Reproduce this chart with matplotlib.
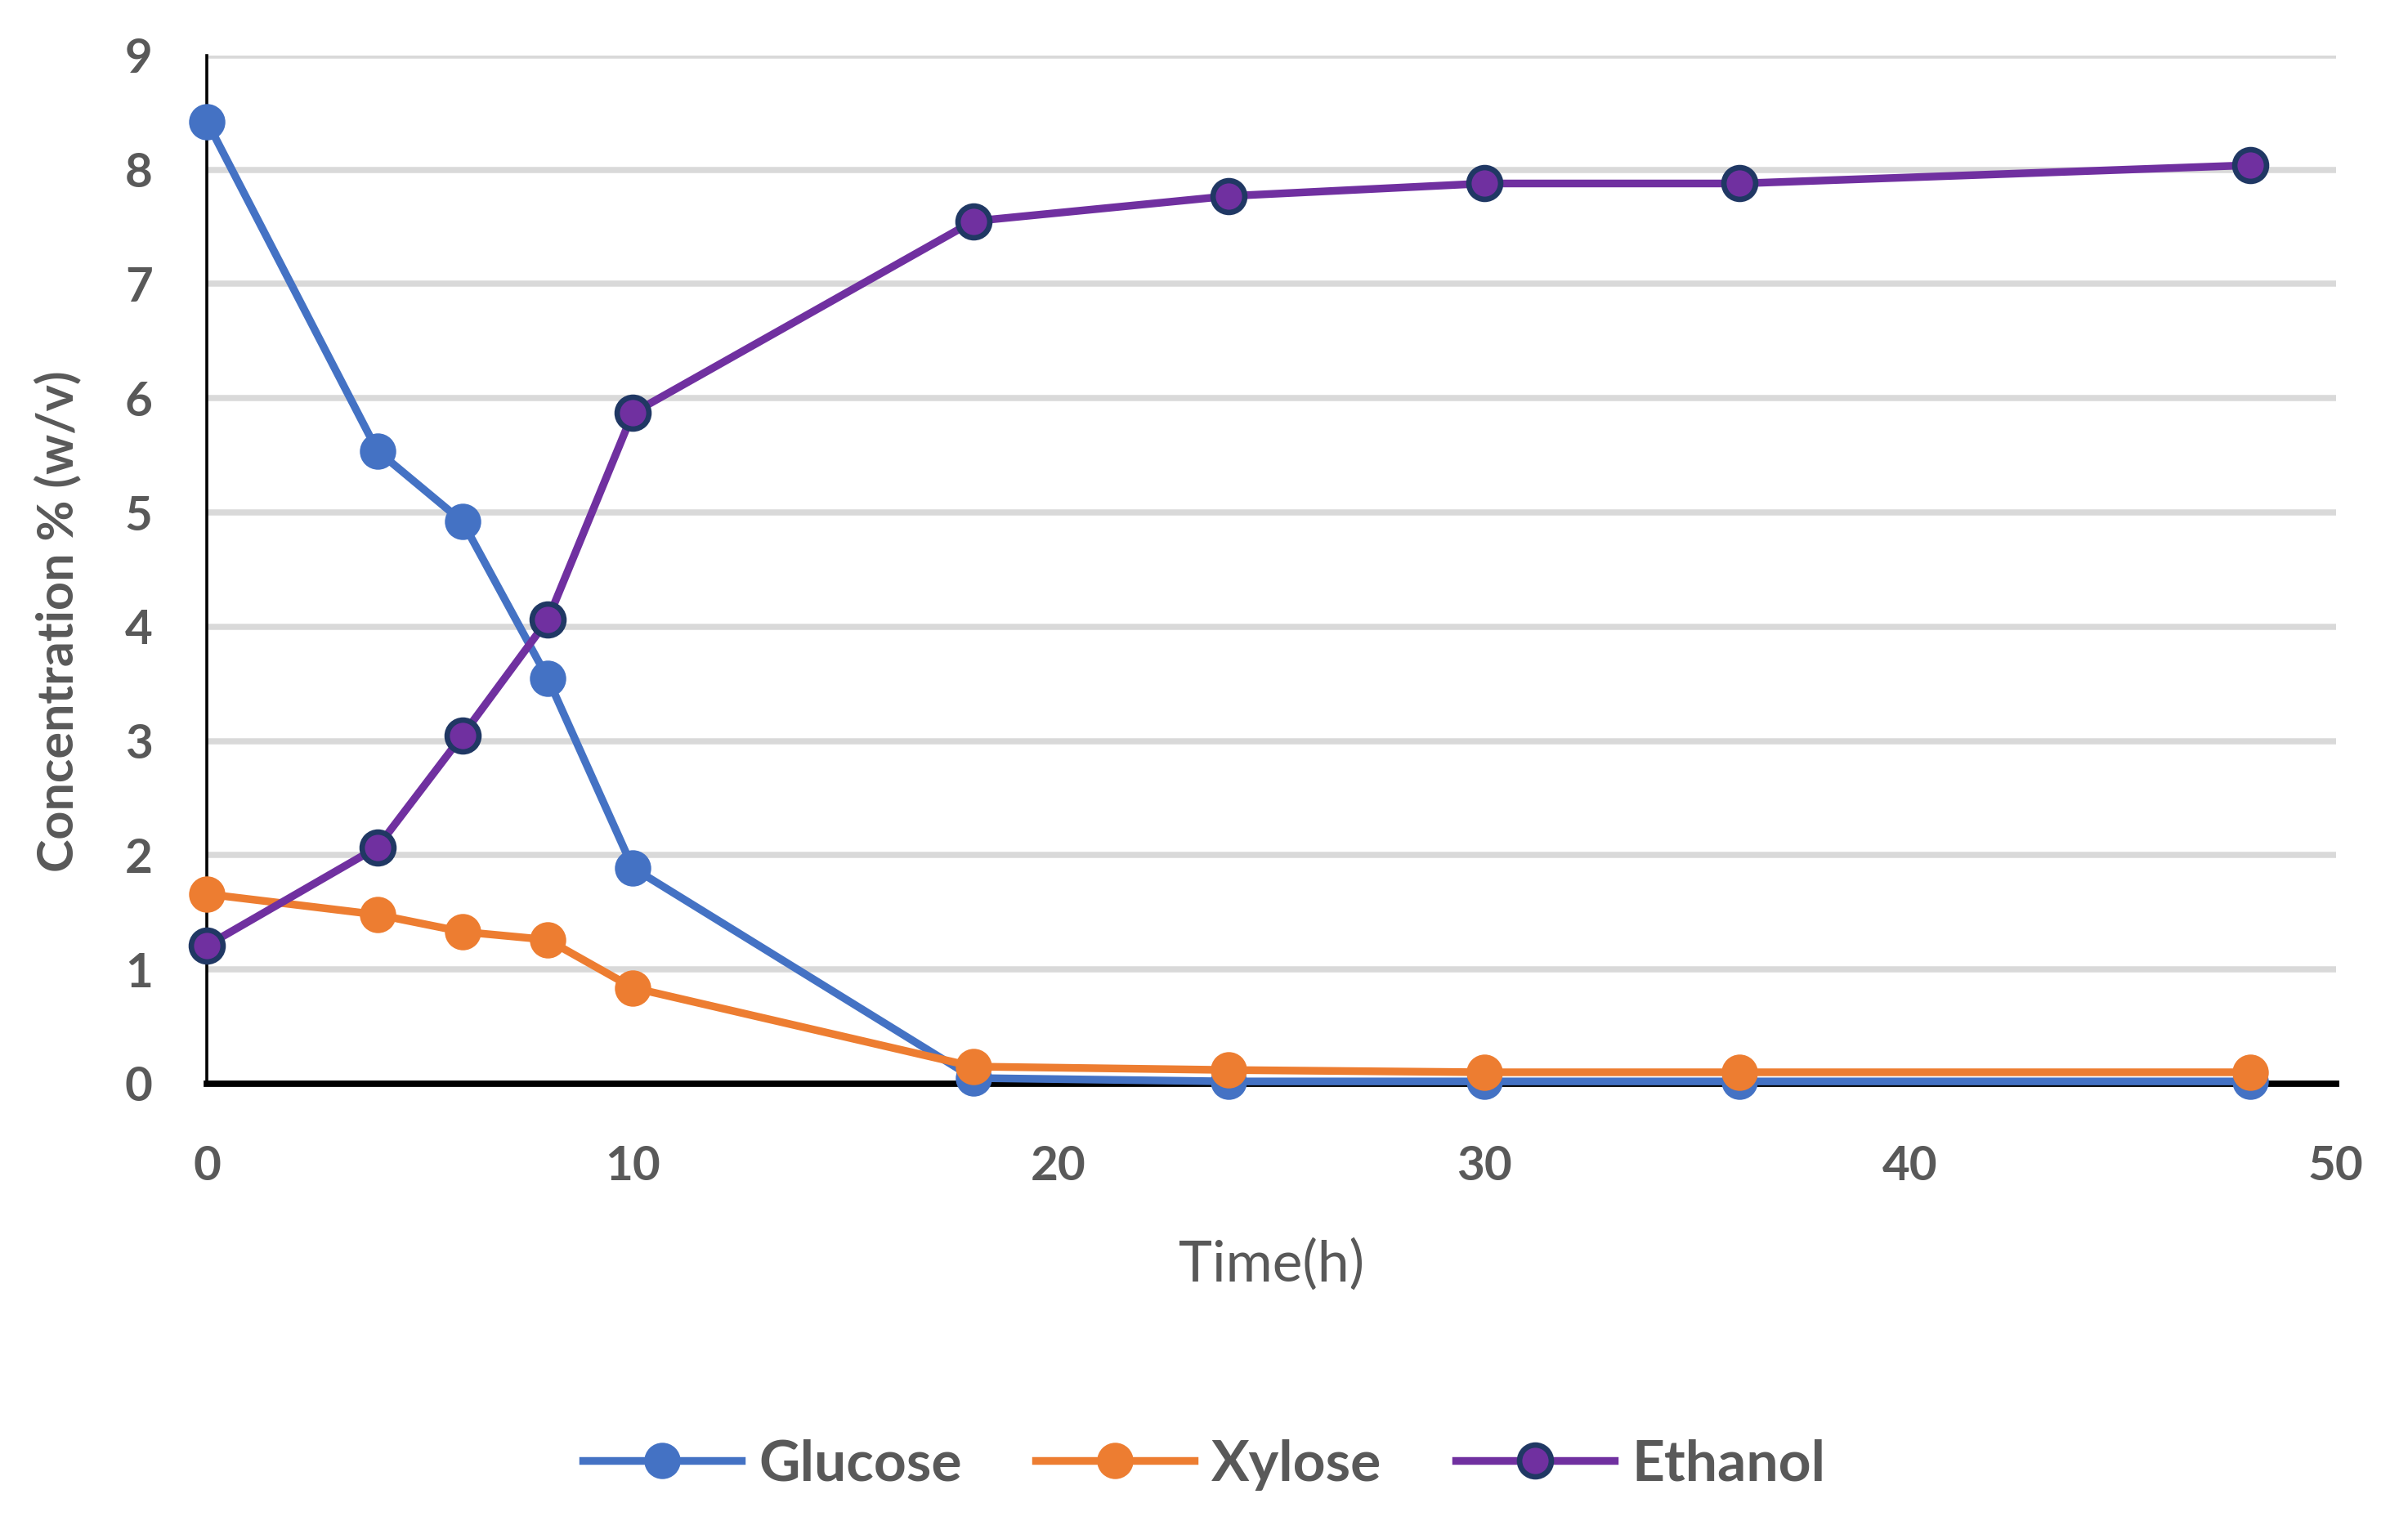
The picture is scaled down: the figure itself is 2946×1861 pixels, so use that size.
import matplotlib.pyplot as plt

time_h = [0, 4, 6, 8, 10, 18, 24, 30, 36, 48]
glucose = [8.42, 5.54, 4.92, 3.55, 1.89, 0.05, 0.02, 0.02, 0.02, 0.02]
xylose = [1.66, 1.48, 1.33, 1.26, 0.84, 0.15, 0.12, 0.10, 0.10, 0.10]
ethanol = [1.21, 2.07, 3.05, 4.06, 5.87, 7.55, 7.77, 7.88, 7.88, 8.04]

x_ticks = [0, 10, 20, 30, 40, 50]
y_ticks = list(range(0, 10))

plt.rcParams['font.family'] = ['Lato', 'DejaVu Sans']

fig = plt.figure(figsize=(14.73, 9.305), dpi=200)
ax = fig.add_axes([0.086, 0.2875, 0.884, 0.676])

ax.plot(time_h, glucose, color='#4472C4', lw=3.4, marker='o', ms=15,
        mfc='#4472C4', mec='#4472C4', label='Glucose', zorder=3,
        clip_on=False)
ax.plot(time_h, xylose, color='#ED7D31', lw=3.4, marker='o', ms=15,
        mfc='#ED7D31', mec='#ED7D31', label='Xylose', zorder=4,
        clip_on=False)
ax.plot(time_h, ethanol, color='#7030A0', lw=3.4, marker='o', ms=14,
        mfc='#7030A0', mec='#203864', mew=2.4, label='Ethanol', zorder=5,
        clip_on=False)

ax.set_xlim(0, 50)
ax.set_ylim(0, 9)
ax.set_xticks(x_ticks)
ax.set_yticks(y_ticks)

ax.yaxis.grid(True, color='#D9D9D9', lw=2.7)
ax.set_axisbelow(True)
ax.tick_params(length=0, labelsize=21, labelcolor='#595959')
ax.tick_params(axis='y', pad=24)
ax.tick_params(axis='x', pad=27)
for lab in ax.get_xticklabels() + ax.get_yticklabels():
    lab.set_fontweight('bold')

for s in ['top', 'right']:
    ax.spines[s].set_visible(False)
ax.spines['left'].set_linewidth(1.3)
ax.spines['bottom'].set_linewidth(2.8)
ax.spines['left'].set_color('black')
ax.spines['bottom'].set_color('black')
ax.spines['left'].set_zorder(2)
ax.spines['bottom'].set_zorder(2)

ax.set_xlabel('Time(h)', fontsize=25, color='#595959', labelpad=22)
ax.set_ylabel('Concentration % (w/v)', fontsize=22, color='#595959',
              fontweight='bold')
ax.yaxis.set_label_coords(-0.059, 0.45)

leg = fig.legend(loc='center', bbox_to_anchor=(0.5, 0.037), ncol=3,
                 frameon=False, fontsize=25, handlelength=2.8,
                 columnspacing=1.3, handletextpad=0.3)
for t in leg.get_texts():
    t.set_color('#595959')
    t.set_fontweight('bold')

fig.savefig('out.png', dpi=200)
